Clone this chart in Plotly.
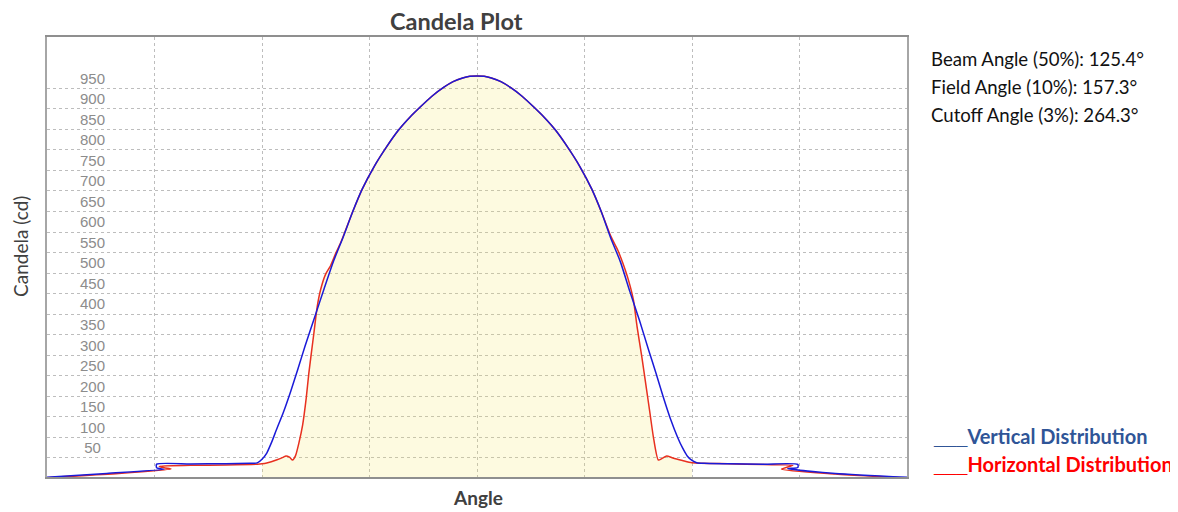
import plotly.graph_objects as go

# ---- data ----
blue_angle = [-180, -155, -131, -134.1, -134.1, -120, -105, -95, -92, -90, -88, -86, -84, -81,
              -78, -75, -72, -68, -64, -60, -56, -52, -48, -43, -38, -33, -28, -24, -19, -14,
              -10, -6, -3, 0, 3, 6, 10, 14, 19, 24, 28, 33, 38, 43, 48, 52, 56, 60, 64, 68,
              72, 75, 78, 81, 84, 86, 88, 90, 92, 95, 105, 120, 134.3, 134.3, 130.1, 150, 180]
blue_cd = [3, 12.5, 22.4, 26, 35, 35.5, 36, 37, 38, 47, 62, 88, 118, 162,
           212, 266, 322, 392, 462, 530, 588, 650, 705, 760, 806, 847, 880, 903, 930, 952,
           966, 975, 979, 980, 979, 975, 966, 952, 930, 903, 880, 847, 806, 760, 705, 650, 585, 528, 455, 385,
           310, 255, 198, 145, 100, 75, 55, 44, 38.5, 37, 36, 35, 34.5, 27, 24, 12.5, 3]

red_angle = [-180, -150, -128.1, -131, -133, -120, -105, -92, -90, -88, -84, -81, -80, -78.5, -77.2,
             -76, -74.5, -73, -71.5, -70.4, -68.3, -66.9, -65.5, -63.4, -61.3, -59, -57,
             -52, -48, -43, -38, -33, -28, -24, -19, -14, -10, -6, -3, 0, 3, 6, 10, 14, 19,
             24, 28, 33, 38, 43, 48, 52, 56, 59, 61, 63.4, 65.5, 67, 69, 70.7, 72.4, 74,
             75.9, 77.5, 79.4, 82, 86, 90, 105, 120, 132.2, 127.5, 150, 180]
red_cd = [2, 12, 23, 26, 30, 32, 33, 35, 36, 38, 45, 52, 55, 52, 45,
          55, 88, 130, 195, 256, 353, 418, 459, 497, 518, 550, 575,
          650, 705, 760, 806, 847, 880, 903, 930, 952, 966, 975, 979, 980, 979, 975, 966, 952, 930,
          903, 880, 847, 806, 760, 705, 650, 590, 555, 525, 483, 434, 370, 296, 228, 159, 95,
          45, 49, 55, 50, 44, 38.5, 36, 34, 32, 23, 11, 1]

y_ticks = list(range(50, 951, 50))
y_tick_text = [(str(v) + "\u00a0") if v < 100 else str(v) for v in y_ticks]
x_ticks = [-135, -90, -45, 0, 45, 90, 135]

beam_lines = ["Beam Angle (50%): 125.4°", "Field Angle (10%): 157.3°", "Cutoff Angle (3%): 264.3°"]
legend_items = [("Vertical Distribution", "#2f5597"), ("Horizontal Distribution", "#ff0000")]

# ---- figure ----
fill_x = [a for a in red_angle[5:-5] if -90 <= a <= 90]
fill_y = [c for a, c in zip(red_angle[5:-5], red_cd[5:-5]) if -90 <= a <= 90]

fig = go.Figure()
fig.add_trace(go.Scatter(x=fill_x, y=fill_y, mode="lines", line=dict(width=0, shape="spline", smoothing=0.6),
                         fill="tozeroy", fillcolor="rgba(245,230,100,0.2)", showlegend=False, hoverinfo="skip"))
fig.add_trace(go.Scatter(x=red_angle, y=red_cd, mode="lines", name="Horizontal Distribution",
                         line=dict(color="#e8301f", width=1.5, shape="spline", smoothing=0.6), showlegend=False))
fig.add_trace(go.Scatter(x=blue_angle, y=blue_cd, mode="lines", name="Vertical Distribution", yaxis="y2",
                         line=dict(color="#1a1ad8", width=1.5, shape="spline", smoothing=0.6), showlegend=False))

OFF = 8  # page body margin
W, H = 1170, 504
L, R, T, B = 39, 271, 29, 35
pw, ph = W - L - R, H - T - B

def px_x(page_x):
    return (page_x - OFF - L) / pw

def px_y(page_y):
    return (H - B - (page_y - OFF)) / ph

annotations = []
for i, t in enumerate(beam_lines):
    annotations.append(dict(text=t, x=px_x(929), y=px_y(59 + 28 * i), xref="paper", yref="paper",
                            xanchor="left", yanchor="middle", showarrow=False,
                            font=dict(family="Lato", size=18.6, color="#111111")))
for i, (t, c) in enumerate(legend_items):
    annotations.append(dict(text="<b><span style='font-family:Liberation Sans'>___</span>" + t + "</b>",
                            x=px_x(931), y=px_y(436 + 28 * i), xref="paper", yref="paper",
                            xanchor="left", yanchor="middle", showarrow=False,
                            font=dict(family="Lato", size=20, color=c)))
annotations.append(dict(text="<b>Angle</b>", x=px_x(478), y=px_y(497), xref="paper", yref="paper",
                        xanchor="center", yanchor="middle", showarrow=False,
                        font=dict(family="Lato", size=19, color="#404040")))
annotations.append(dict(text="Candela (cd)", x=px_x(20), y=px_y(247), xref="paper", yref="paper",
                        xanchor="center", yanchor="middle", showarrow=False, textangle=-90,
                        font=dict(family="Lato", size=19, color="#404040")))
annotations.append(dict(text="<b>Candela Plot</b>", x=px_x(456), y=px_y(21), xref="paper", yref="paper",
                        xanchor="center", yanchor="middle", showarrow=False,
                        font=dict(family="Lato", size=23.5, color="#404040")))

fig.update_layout(
    width=W, height=H,
    margin=dict(l=L, r=R, t=T, b=B),
    paper_bgcolor="white", plot_bgcolor="white",
    annotations=annotations,
    xaxis=dict(range=[-180, 180], tickvals=x_ticks, showticklabels=False, ticks="",
               showgrid=True, gridcolor="#bdbdbd", griddash="3px,3px", gridwidth=1,
               showline=True, linecolor="#8f8f8f", linewidth=2, mirror=True, zeroline=False,
               automargin=False),
    yaxis=dict(range=[3.7, 1074.8], tickvals=y_ticks, showticklabels=False, ticks="",
               showgrid=True, gridcolor="#bdbdbd", griddash="3px,3px", gridwidth=1,
               showline=True, linecolor="#a6a6a6", linewidth=2, mirror=True, zeroline=False,
               automargin=False),
    yaxis2=dict(range=[3.7, 1074.8], overlaying="y", anchor="free", side="left",
                position=px_x(105), tickvals=y_ticks, ticktext=y_tick_text, ticks="",
                ticklabelshift=-10,
                tickfont=dict(family="Liberation Sans", size=15, color="#8c8c8c"),
                showgrid=False, showline=False, zeroline=False, automargin=False),
)

fig.write_html("out.html")
